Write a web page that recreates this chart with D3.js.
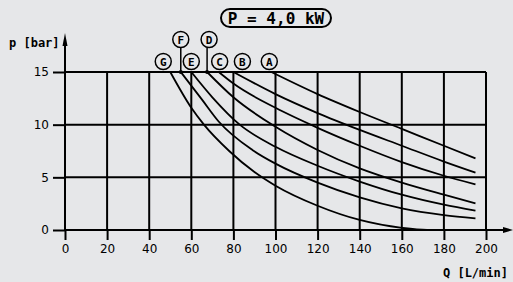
<!DOCTYPE html>
<html>
<head>
<meta charset="utf-8">
<script src="https://cdn.jsdelivr.net/npm/d3@7"></script>
<style>
  body { margin: 0; background: #e6e7e9; }
  svg { display: block; }
  .tick text { font-family: "DejaVu Sans", sans-serif; font-size: 12px; fill: #000; }
  .mono { font-family: "DejaVu Sans Mono", monospace; fill: #000; }
</style>
</head>
<body>
<div id="chart"></div>
<script>
// chart size
let w = 513;
let h = 282;

// flow ticks and pressure ticks
const flowTicks = [0, 20, 40, 60, 80, 100, 120, 140, 160, 180, 200];
const pressTicks = [0, 5, 10, 15];

// curve names, each curve as [Q, p]
const curveNames = ["A", "B", "C", "D", "E", "F", "G"];
const curveA = [[98, 15], [120, 12.9], [140, 11.2], [160, 9.6], [180, 8.0], [195, 6.8]];
const curveB = [[80, 15], [100, 12.9], [120, 11.1], [140, 9.5], [160, 8.0], [180, 6.5], [195, 5.45]];
const curveC = [[73, 15], [80, 13.9], [100, 11.6], [120, 9.7], [140, 8.0], [160, 6.45], [180, 5.15], [195, 4.34]];
const curveD = [[67.5, 15], [80, 12.6], [100, 9.8], [120, 7.6], [140, 5.85], [160, 4.5], [180, 3.35], [195, 2.53]];
const curveE = [[60, 15], [70, 12.6], [83, 10], [100, 7.9], [120, 6.1], [140, 4.6], [160, 3.35], [180, 2.4], [195, 1.84]];
const curveF = [[55, 15], [65, 12.4], [73, 10.3], [89, 7.6], [100, 6.3], [120, 4.5], [140, 3.1], [160, 2.06], [180, 1.42], [195, 1.11]];
const curveG = [[50, 15], [60, 11.6], [66, 10], [78, 7.5], [90, 5.5], [100, 4.2], [120, 2.3], [140, 0.95], [160, 0.2], [172, 0], [195, 0]];
const curves = [curveA, curveB, curveC, curveD, curveE, curveF, curveG];

const titleText = "P = 4,0 kW";

// label layout: pixel shift from curve start, upper row gets a leader line
const labelShift = { A: [-2, 0], B: [9, 0], C: [1, 0], D: [2, 1], E: [0, 0], F: [0, 1], G: [-7, 0] };

let xScale = d3.scaleLinear().domain([0, 200]).range([65, 486]);
let yScale = d3.scaleLinear().domain([0, 15]).range([230, 72]);

const svg = d3.select("#chart")
  .append("svg")
  .attr("width", w)
  .attr("height", h);

svg.append("rect").attr("width", w).attr("height", h).attr("fill", "#e6e7e9");

// vertical grid + x ticks
const xAxis = d3.axisBottom(xScale)
  .tickValues(flowTicks)
  .tickSize(10)
  .tickPadding(4)
  .tickFormat(d3.format("d"));

const gx = svg.append("g")
  .attr("transform", "translate(0," + yScale(0) + ")")
  .call(xAxis);
gx.select(".domain").remove();
gx.selectAll(".tick line").attr("stroke", "#000").attr("stroke-width", 2);

svg.append("g")
  .selectAll("line")
  .data(flowTicks)
  .join("line")
  .attr("x1", d => xScale(d)).attr("x2", d => xScale(d))
  .attr("y1", yScale(15)).attr("y2", yScale(0))
  .attr("stroke", "#000").attr("stroke-width", 2);

// horizontal grid + y ticks
const yAxis = d3.axisLeft(yScale)
  .tickValues(pressTicks)
  .tickSize(12)
  .tickPadding(4);

const gy = svg.append("g")
  .attr("transform", "translate(" + xScale(0) + ",0)")
  .call(yAxis);
gy.select(".domain").remove();
gy.selectAll(".tick line").attr("stroke", "#000").attr("stroke-width", 2);

svg.append("g")
  .selectAll("line")
  .data(pressTicks)
  .join("line")
  .attr("x1", xScale(0)).attr("x2", xScale(200))
  .attr("y1", d => yScale(d)).attr("y2", d => yScale(d))
  .attr("stroke", "#000").attr("stroke-width", 2);

// axis lines with arrows
svg.append("line")
  .attr("x1", xScale(0)).attr("x2", 504)
  .attr("y1", yScale(0)).attr("y2", yScale(0))
  .attr("stroke", "#000").attr("stroke-width", 2);
svg.append("path")
  .attr("d", "M503," + (yScale(0) - 3) + "L513," + yScale(0) + "L503," + (yScale(0) + 3) + "Z")
  .attr("fill", "#000");

svg.append("line")
  .attr("x1", xScale(0)).attr("x2", xScale(0))
  .attr("y1", yScale(0)).attr("y2", 44)
  .attr("stroke", "#000").attr("stroke-width", 2);
svg.append("path")
  .attr("d", "M" + (xScale(0) - 2.5) + ",46L" + xScale(0) + ",33L" + (xScale(0) + 2.5) + ",46Z")
  .attr("fill", "#000");

// curves
const line = d3.line()
  .x(d => xScale(d[0]))
  .y(d => yScale(d[1]))
  .curve(d3.curveMonotoneX);

svg.append("g")
  .selectAll("path")
  .data(curves)
  .join("path")
  .attr("d", line)
  .attr("fill", "none")
  .attr("stroke", "#000")
  .attr("stroke-width", 1.8);

// curve labels in circles
curveNames.forEach((name, i) => {
  const start = curves[i][0];
  const sx = xScale(start[0]);
  const lx = sx + labelShift[name][0];
  const upper = labelShift[name][1] === 1;
  const cy = upper ? 39.5 : 61.5;
  if (upper) {
    svg.append("line")
      .attr("x1", sx).attr("x2", sx)
      .attr("y1", cy + 8).attr("y2", yScale(15))
      .attr("stroke", "#000").attr("stroke-width", 1.5);
    svg.append("circle")
      .attr("cx", sx).attr("cy", yScale(15)).attr("r", 2)
      .attr("fill", "#000");
  }
  svg.append("circle")
    .attr("cx", lx).attr("cy", cy).attr("r", 8)
    .attr("fill", "none").attr("stroke", "#000").attr("stroke-width", 1.5);
  svg.append("text")
    .attr("class", "mono")
    .attr("x", lx).attr("y", cy + 4)
    .attr("text-anchor", "middle")
    .style("font-size", "11px")
    .style("font-weight", "bold")
    .text(name);
});

// title pill
svg.append("rect")
  .attr("x", 221).attr("y", 9).attr("width", 110).attr("height", 18)
  .attr("rx", 9).attr("ry", 9)
  .attr("fill", "none").attr("stroke", "#000").attr("stroke-width", 2);
svg.append("text")
  .attr("class", "mono")
  .attr("x", 276).attr("y", 24)
  .attr("text-anchor", "middle")
  .style("font-size", "16px")
  .style("font-weight", "bold")
  .text(titleText);

// axis titles
svg.append("text")
  .attr("class", "mono")
  .attr("x", 9).attr("y", 47)
  .style("font-size", "12px")
  .style("font-weight", "bold")
  .text("p [bar]");

svg.append("text")
  .attr("class", "mono")
  .attr("x", 508).attr("y", 277)
  .attr("text-anchor", "end")
  .style("font-size", "12px")
  .style("font-weight", "bold")
  .text("Q [L/min]");
</script>
</body>
</html>
